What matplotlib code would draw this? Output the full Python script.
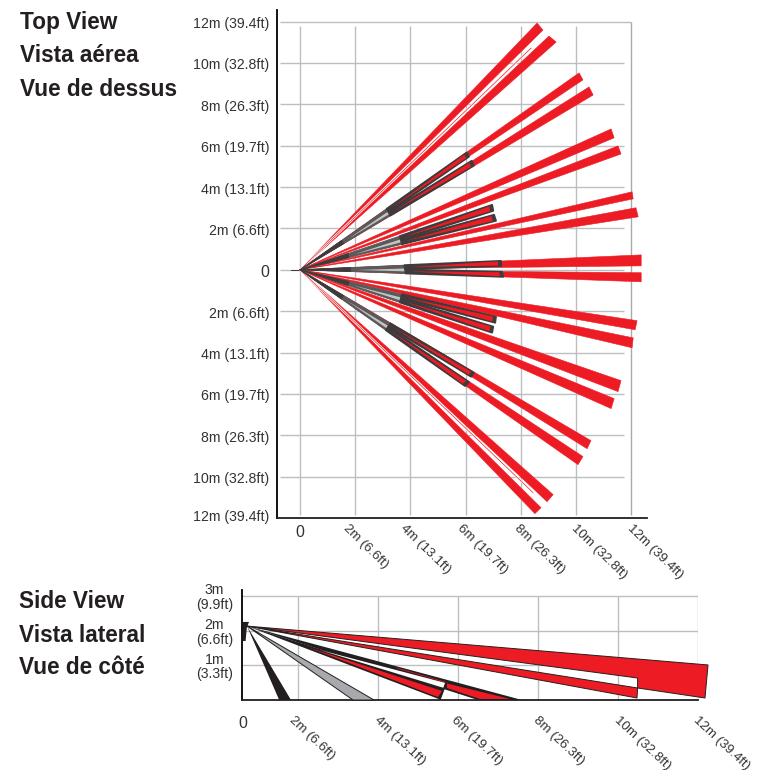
import matplotlib
matplotlib.use('Agg')
import matplotlib.pyplot as plt
from matplotlib.patches import Polygon
from matplotlib.transforms import ScaledTranslation

plt.rcParams['font.family'] = ['Liberation Sans', 'DejaVu Sans']

RED = '#ed1c24'
DARK = '#231f20'
BEAM_DARK = '#3d3b3c'
GREY = '#a7a9ac'
GRID = '#bcbec0'
TEXT = '#333333'

W, H = 759, 770

# top view: far end corners of each red beam, metres (upper corner, lower corner)
red_x1 = [8.59, 9.02, 10.11, 10.47, 11.27, 11.52, 12.03, 12.17, 12.36,
          12.36, 12.21, 12.07, 11.63, 11.38, 10.54, 10.25, 9.17, 8.73]
red_y1 = [11.93, 11.30, 9.52, 8.84, 6.81, 5.99, 3.77, 3.00, 0.72,
          -0.14, -2.46, -3.29, -5.36, -6.23, -8.26, -9.03, -10.87, -11.50]
red_x2 = [8.80, 9.28, 10.25, 10.62, 11.38, 11.63, 12.07, 12.25, 12.36,
          12.36, 12.14, 12.03, 11.52, 11.27, 10.40, 10.07, 8.95, 8.51]
red_y2 = [11.59, 11.01, 9.18, 8.45, 6.38, 5.60, 3.43, 2.56, 0.19,
          -0.58, -2.90, -3.77, -5.89, -6.71, -8.65, -9.42, -11.21, -11.79]

# top view: short dark beams, two per direction
dark_x1 = [6.04, 6.22, 6.96, 7.03, 7.28, 7.32, 7.10, 7.00, 6.30, 6.12]
dark_y1 = [5.67, 5.27, 3.14, 2.66, 0.43, -0.10, -2.27, -2.75, -4.98, -5.43]
dark_x2 = [6.12, 6.30, 7.00, 7.10, 7.29, 7.36, 7.07, 6.96, 6.20, 5.98]
dark_y2 = [5.47, 5.04, 2.85, 2.37, 0.19, -0.34, -2.56, -3.04, -5.17, -5.62]

# top view: thin centre lines between the outer beam pairs
thin_x = [8.37, 8.44]
thin_y = [10.72, -10.77]

top_ticks = [2, 4, 6, 8, 10, 12]
dist_labels = ['2m (6.6ft)', '4m (13.1ft)', '6m (19.7ft)', '8m (26.3ft)',
               '10m (32.8ft)', '12m (39.4ft)']

# side view shapes, metres
origin = (0.725, 2.13)
mount_x = [0.625, 0.775, 0.72, 0.69, 0.625]
mount_y = [2.25, 2.25, 2.08, 1.70, 1.70]
floor_x = [1.53, 1.825]
grey_x = [3.375, 3.90]
near_x = [5.55, 5.65]
near_y = [0.015, 0.33]
near_core_x = [2.225, 5.50, 5.60]
near_core_y = [1.53, 0.085, 0.26]
near_end_x = [5.70, 5.55]
near_end_y = [0.49, 0.03]
band_x = [7.60, 6.50]
band_core_x = [5.725, 7.30, 6.55, 5.725]
band_core_y = [0.475, 0.03, 0.03, 0.345]
band_line_x = [4.475, 5.725]
band_line_y = [0.92, 0.50]
gap_x = [2.55, 5.69, 5.65]
gap_y = [1.44, 0.49, 0.346]
mid_x = [10.49, 10.475]
mid_y = [0.346, 0.058]
far_x = [12.25, 12.175, 10.49, 10.49]
far_y = [1.01, 0.058, 0.346, 0.634]

side_ticks = [2, 4, 6, 8, 10, 12]
side_y = [1, 2, 3]
side_y_labels = ['1m\n(3.3ft)', '2m\n(6.6ft)', '3m\n(9.9ft)']

top_y = [-12, -10, -8, -6, -4, -2, 0, 2, 4, 6, 8, 10, 12]
top_y_labels = ['12m (39.4ft)', '10m (32.8ft)', '8m (26.3ft)', '6m (19.7ft)',
                '4m (13.1ft)', '2m (6.6ft)', '0', '2m (6.6ft)', '4m (13.1ft)',
                '6m (19.7ft)', '8m (26.3ft)', '10m (32.8ft)', '12m (39.4ft)']


def box(l, t, r, b):
    return [l / W, 1 - b / H, (r - l) / W, (b - t) / H]


def shift_label(fig, label, dx, dy):
    # dx, dy in pixels, dy down
    label.set_transform(label.get_transform() +
                        ScaledTranslation(dx / fig.dpi, -dy / fig.dpi, fig.dpi_scale_trans))


def style_axes(ax):
    for s in ['top', 'right']:
        ax.spines[s].set_visible(False)
    ax.spines['left'].set_linewidth(1.3)
    ax.spines['bottom'].set_linewidth(1.3)
    ax.spines['left'].set_color('black')
    ax.spines['bottom'].set_color(DARK)
    ax.tick_params(length=0, colors=TEXT)


def poly(ax, pts, color, z, edge='none', lw=0):
    ax.add_patch(Polygon(pts, closed=True, facecolor=color, edgecolor=edge,
                         linewidth=lw, zorder=z, clip_on=False, joinstyle='round'))


def between(p, q, f, t):
    # point at fraction f from p to q, scaled t along the beam
    return (t * (p[0] + f * (q[0] - p[0])), t * (p[1] + f * (q[1] - p[1])))


fig = plt.figure(figsize=(W / 100, H / 100), dpi=100)

# ---- top view ----
ax = fig.add_axes(box(277, 10, 647, 518))
ax.set_xlim(-0.833, 12.57)
ax.set_ylim(-11.98, 12.56)
style_axes(ax)

ax.hlines([y for y in top_y if y != 12], -0.72, 11.74, color=GRID, lw=1.0, zorder=1)
ax.hlines(12, -0.72, 12.0, color=GRID, lw=1.0, zorder=1)
ax.vlines([0] + top_ticks[:-1], -11.84, 11.79, color=GRID, lw=1.0, zorder=1)
ax.vlines(12, -11.84, 12, color=GREY, lw=1.0, zorder=1)
ax.plot([-0.33, 0], [0, 0], color=BEAM_DARK, lw=0.7, zorder=2)

for x1, y1, x2, y2 in zip(red_x1, red_y1, red_x2, red_y2):
    poly(ax, [(0, 0), (x1, y1), (x2, y2)], RED, 3, edge=RED, lw=0.4)

for x, y in zip(thin_x, thin_y):
    ax.plot([0, x], [0, y], color='white', lw=1.6, zorder=4, solid_capstyle='butt')
    ax.plot([0, x], [0, y], color=RED, lw=0.5, zorder=4.1)

for i in range(0, len(dark_x1), 2):
    p, q = (dark_x1[i], dark_y1[i]), (dark_x2[i], dark_y2[i])
    r, s = (dark_x1[i + 1], dark_y1[i + 1]), (dark_x2[i + 1], dark_y2[i + 1])
    # the two beams of a direction merge towards the sensor
    poly(ax, [(0, 0), between(p, s, 0, 0.52), between(p, s, 1, 0.52)], '#5a5a5a', 5,
         edge='#5a5a5a', lw=0.6)
    poly(ax, [(0, 0), between(p, s, 0, 0.25), between(p, s, 1, 0.25)], BEAM_DARK, 5.2,
         edge=BEAM_DARK, lw=0.6)
    poly(ax, [between(p, s, 0.6, 0.28), between(p, s, 0.4, 0.52),
              between(p, s, 0.75, 0.52)], '#c4c4c4', 5.4)
    # beam bodies fill half the pair at their near end
    poly(ax, [between(p, s, 0, 0.52), p, q, between(p, s, 0.48, 0.52)], BEAM_DARK, 6,
         edge=BEAM_DARK, lw=1.3)
    poly(ax, [between(p, s, 0.52, 0.52), r, s, between(p, s, 1, 0.52)], BEAM_DARK, 6,
         edge=BEAM_DARK, lw=1.3)
    for a, b in ((p, q), (r, s)):
        poly(ax, [between(p, s, 0.25 if a is p else 0.75, 0.54),
                  between(a, b, 0.08, 0.985), between(a, b, 0.92, 0.985)], RED, 6.5)

ax.set_xticks([0] + top_ticks)
xl = ax.set_xticklabels(['0'] + dist_labels, fontsize=9.6, color=TEXT)
for i, lab in enumerate(xl[1:]):
    lab.set(rotation=-44, ha='left', va='top', rotation_mode='anchor')
    shift_label(fig, lab, -6 + 1.7 * i, 0)
xl[0].set_fontsize(11.5)
shift_label(fig, xl[0], 0, 2)

ax.set_yticks(top_y)
yl = ax.set_yticklabels(top_y_labels, fontsize=10.2, color=TEXT)
ax.tick_params(axis='y', pad=5.5)
yl[6].set_fontsize(11.5)
for lab in yl[1:]:
    shift_label(fig, lab, 0, 1)
shift_label(fig, yl[0], 0, -2)

# ---- side view ----
ax2 = fig.add_axes(box(242, 590, 698, 700))
ax2.set_xlim(0.6, 12.0)
ax2.set_ylim(0, 3.17)
style_axes(ax2)

ax2.hlines(side_y, 0.6, 12, color=GRID, lw=1.0, zorder=1)
ax2.vlines(side_ticks, 0, 3, color=GRID, lw=1.0, zorder=1)

edge = dict(edge=DARK, lw=0.7)
poly(ax2, list(zip(mount_x, mount_y)), DARK, 6)
poly(ax2, [origin, (floor_x[0], 0), (floor_x[1], 0)], DARK, 6)
poly(ax2, [origin, (grey_x[0], 0), (grey_x[1], 0)], GREY, 3, **edge)

poly(ax2, [origin] + list(zip(far_x, far_y)), RED, 3, **edge)
poly(ax2, [origin, (mid_x[0], mid_y[0]), (mid_x[1], mid_y[1])], RED, 3.5, **edge)

poly(ax2, [origin, (near_x[0], near_y[0]), (near_x[1], near_y[1])], DARK, 4)
poly(ax2, [origin, (band_x[0], 0), (band_x[1], 0)], DARK, 4)
poly(ax2, list(zip(gap_x, gap_y)), 'white', 4.3)
poly(ax2, list(zip(near_core_x, near_core_y)), RED, 4.5)
poly(ax2, list(zip(band_core_x, band_core_y)), RED, 4.5)
ax2.plot(near_end_x, near_end_y, color=DARK, lw=1.3, zorder=5, clip_on=False)
ax2.plot(band_line_x, band_line_y, color=RED, lw=0.5, zorder=4.6)

ax2.set_xticks([0.6] + side_ticks)
xl2 = ax2.set_xticklabels(['0'] + dist_labels, fontsize=9.6, color=TEXT)
for lab, dx in zip(xl2[1:], [-3, 2, -1, 1, 2, 1]):
    lab.set(rotation=-43, ha='left', va='top', rotation_mode='anchor')
    shift_label(fig, lab, dx, 9)
xl2[0].set_fontsize(11.5)
shift_label(fig, xl2[0], 1, 11)

ax2.set_yticks(side_y)
yl2 = ax2.set_yticklabels(side_y_labels, fontsize=10.2, color=TEXT, ha='center',
                          linespacing=1.05)
ax2.tick_params(axis='y', pad=20)

# ---- headings ----
for y, s in zip([23, 56, 90], ['Top View', 'Vista aérea', 'Vue de dessus']):
    fig.text(20 / W, 1 - y / H, s, fontsize=16.3, fontweight='bold', color=DARK, va='center')
for y, s in zip([602, 635, 668], ['Side View', 'Vista lateral', 'Vue de côté']):
    fig.text(19 / W, 1 - y / H, s, fontsize=16.3, fontweight='bold', color=DARK, va='center')

fig.savefig('out.png', dpi=100)
